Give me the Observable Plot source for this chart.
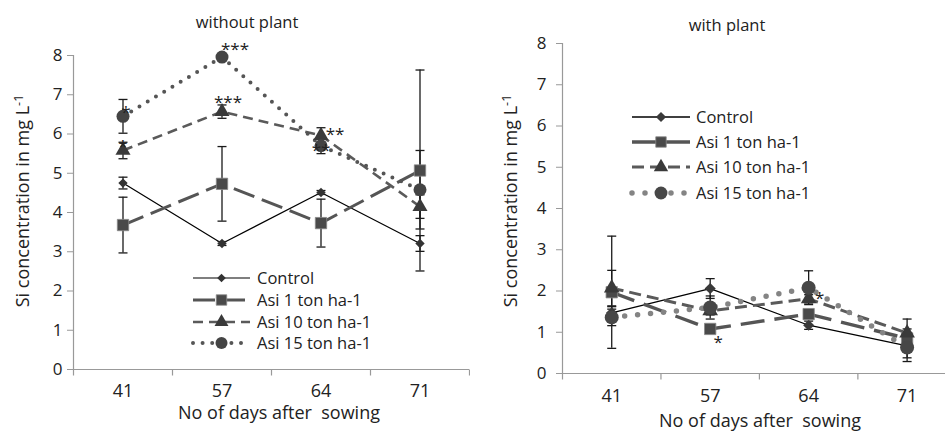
<!DOCTYPE html>
<html><head><meta charset="utf-8">
<script src="https://cdn.jsdelivr.net/npm/d3@7"></script>
<script src="https://cdn.jsdelivr.net/npm/@observablehq/plot@0.6"></script>
<style>
body{margin:0;background:#fff}
#wrap{display:flex;width:945px;height:431px;overflow:hidden;background:#fff}
.panel text{font-family:"Open Sans",sans-serif;fill:#222}
.panel [aria-label^="y-axis"] text{font-size:17px}
.panel [aria-label^="x-axis"] text{font-size:18px}
.panel [aria-label^="y-axis"] line,.panel [aria-label^="y-axis"] path,
.panel [aria-label^="x-axis"] line,.panel [aria-label^="x-axis"] path{stroke:#999}
.panel [aria-label^="y-axis"] .domain,.panel [aria-label^="x-axis"] .domain{display:none}
</style>
</head><body><div id="wrap"></div>
<script>
// ---- categories ----
const days = ["41", "57", "64", "71"];
const seriesNames = ["Control", "Asi 1 ton ha-1", "Asi 10 ton ha-1", "Asi 15 ton ha-1"];
const yTicks = [0, 1, 2, 3, 4, 5, 6, 7, 8];

// ---- panel "without plant": means and error half-widths (mg L-1) ----
const noPlantControl    = [4.75, 3.21, 4.51, 3.21];
const noPlantControlErr = [0.15, 0.05, 0.05, 0.20];
const noPlantAsi1       = [3.68, 4.73, 3.73, 5.07];
const noPlantAsi1Err    = [0.71, 0.95, 0.61, 2.56];
const noPlantAsi10      = [5.58, 6.57, 5.96, 4.15];
const noPlantAsi10Err   = [0.21, 0.17, 0.20, 0.30];
const noPlantAsi15      = [6.45, 7.96, 5.70, 4.58];
const noPlantAsi15Err   = [0.43, 0.05, 0.20, 1.00];

// ---- panel "with plant" ----
const plantControl    = [1.47, 2.06, 1.17, 0.67];
const plantControlErr = [0.15, 0.24, 0.10, 0.10];
const plantAsi1       = [1.97, 1.08, 1.44, 0.85];
const plantAsi1Err    = [1.36, 0.10, 0.10, 0.47];
const plantAsi10      = [2.07, 1.52, 1.81, 0.98];
const plantAsi10Err   = [0.43, 0.10, 0.10, 0.10];
const plantAsi15      = [1.36, 1.60, 2.08, 0.63];
const plantAsi15Err   = [0.20, 0.28, 0.41, 0.34];

// ---- significance marks ----
const noPlantStarLabels = ["***", "***", "*", "*", "**", "**"];
const noPlantStarDays   = ["57", "57", "41", "41", "64", "64"];
const noPlantStarValues = [8.25, 6.90, 6.65, 5.78, 6.10, 5.68];
const noPlantStarShift  = [13, 6, 3, 0, 14, 0];
const plantStarLabels = ["*", "*"];
const plantStarDays   = ["57", "64"];
const plantStarValues = [0.84, 1.91];
const plantStarShift  = [8, 11];

// ---- styles ----
const stylesLeft = [
  {stroke:"#000", sw:1.2, dash:null, cap:"butt", symbol:"diamond2", r:4.2, fill:"#333", mstroke:"none"},
  {stroke:"#555", sw:3, dash:"22,8", cap:"butt", symbol:"square", r:6.4, fill:"#4a4a4a", mstroke:"#888"},
  {stroke:"#5a5a5a", sw:2.6, dash:"10,6", cap:"butt", symbol:"triangle", r:5.6, fill:"#3a3a3a", mstroke:"none"},
  {stroke:"#555", sw:4, dash:"0,9.6", cap:"round", symbol:"circle", r:6.5, fill:"#444", mstroke:"none"}
];
const stylesRight = [
  {stroke:"#000", sw:1.3, dash:null, cap:"butt", symbol:"diamond2", r:5, fill:"#3a3a3a", mstroke:"none"},
  {stroke:"#555", sw:3.4, dash:"24,10", cap:"butt", symbol:"square", r:6.4, fill:"#4a4a4a", mstroke:"#888"},
  {stroke:"#5a5a5a", sw:3, dash:"12,6", cap:"butt", symbol:"triangle", r:5.8, fill:"#3a3a3a", mstroke:"none"},
  {stroke:"#848484", sw:5.5, dash:"0,13", cap:"round", symbol:"circle", r:7, fill:"#474747", mstroke:"none"}
];

const tickSym = {draw(ctx){ ctx.moveTo(0,0); ctx.lineTo(0,6); }};
const capSym  = {draw(ctx){ ctx.moveTo(-4.5,0); ctx.lineTo(4.5,0); }};
const d3Sym = {diamond2:d3.symbolDiamond2, square:d3.symbolSquare, triangle:d3.symbolTriangle, circle:d3.symbolCircle};

function rows(values, errs, name) {
  return days.map((d, i) => ({day:d, x:i + 0.5, y:values[i], lo:values[i] - errs[i], hi:values[i] + errs[i], series:name}));
}

function panel(cfg) {
  const seriesRows = cfg.values.map((v, k) => rows(v, cfg.errs[k], seriesNames[k]));
  const all = seriesRows.flat();
  const marks = [
    Plot.ruleY([0], {stroke:"#999", strokeWidth:1.2}),
    Plot.ruleX([0], {stroke:"#999", strokeWidth:1.2}),
    Plot.dot([0, 1, 2, 3, 4], {x:d => d, y:() => 0, symbol:tickSym, stroke:"#999", fill:"none", strokeWidth:1.2})
  ];
  seriesRows.forEach((r, k) => {
    const s = cfg.styles[k];
    marks.push(Plot.line(r, {x:"x", y:"y", stroke:s.stroke, strokeWidth:s.sw, strokeDasharray:s.dash, strokeLinecap:s.cap, curve:"linear"}));
  });
  marks.push(Plot.ruleX(all, {x:"x", y1:"lo", y2:"hi", stroke:"#1a1a1a", strokeWidth:1.3}));
  marks.push(Plot.dot(all, {x:"x", y:"lo", symbol:capSym, stroke:"#1a1a1a", fill:"none", strokeWidth:1.3}));
  marks.push(Plot.dot(all, {x:"x", y:"hi", symbol:capSym, stroke:"#1a1a1a", fill:"none", strokeWidth:1.3}));
  seriesRows.forEach((r, k) => {
    const s = cfg.styles[k];
    marks.push(Plot.dot(r, {x:"x", y:"y", symbol:s.symbol, r:s.r, fill:s.fill, stroke:s.mstroke, strokeWidth:0.8}));
  });
  cfg.starLabels.forEach((lab, j) => {
    marks.push(Plot.text([lab], {x:() => days.indexOf(cfg.starDays[j]) + 0.5, y:() => cfg.starValues[j], text:d => d,
      dx:cfg.starShift[j], dy:4, fontSize:17, fill:"#222"}));
  });

  const svgEl = Plot.plot({
    width:cfg.width, height:431,
    marginLeft:cfg.ml, marginRight:cfg.mr, marginTop:cfg.mt, marginBottom:cfg.mb,
    style:{fontFamily:"Open Sans, sans-serif", fontSize:"16px", background:"white", color:"#222", overflow:"visible"},
    x:{domain:[0, cfg.xMax], ticks:days.map((d, i) => i + 0.5), tickFormat:v => days[Math.floor(v)], tickSize:0, tickPadding:cfg.xPad, label:null},
    y:{domain:[0, 8], ticks:yTicks, tickSize:6, tickPadding:cfg.yPad, tickFormat:d3.format("d"), label:null},
    marks
  });
  svgEl.classList.add("panel");
  const svg = d3.select(svgEl);

  // panel title
  svg.append("text").attr("x", cfg.titleX).attr("y", cfg.titleY).attr("text-anchor", "middle")
    .style("font-size", "16.5px").text(cfg.title);
  // x-axis title
  svg.append("text").attr("x", cfg.xTitleX).attr("y", cfg.xTitleY).attr("text-anchor", "middle")
    .style("font-size", "18px").style("white-space", "pre").text("No of days after  sowing");
  // y-axis title with superscript
  const yt = svg.append("text").attr("transform", `translate(${cfg.yTitleX},${cfg.yTitleY}) rotate(-90)`)
    .attr("text-anchor", "middle").style("font-size", "18px");
  yt.append("tspan").text("Si concentration in mg L");
  yt.append("tspan").attr("dy", "-0.45em").style("font-size", "12.5px").text("-1");

  // legend
  const lg = svg.append("g").attr("text-anchor", "start");
  seriesNames.forEach((name, k) => {
    const s = cfg.styles[k];
    const y = cfg.legY[k];
    lg.append("line").attr("x1", cfg.legX0).attr("x2", cfg.legX1).attr("y1", y).attr("y2", y)
      .attr("stroke", s.stroke).attr("stroke-width", s.sw).attr("stroke-dasharray", s.dash)
      .attr("stroke-linecap", s.cap);
    const xm = (cfg.legX0 + cfg.legX1) / 2;
    lg.append("path").attr("transform", `translate(${xm},${y})`)
      .attr("d", d3.symbol(d3Sym[s.symbol], s.r * s.r * Math.PI * 0.85)())
      .attr("fill", s.fill).attr("stroke", s.mstroke).attr("stroke-width", 0.8);
    lg.append("text").attr("x", cfg.legTX).attr("y", y).attr("dy", "0.35em")
      .attr("text-anchor", "start").style("font-size", "16.5px").text(name);
  });
  return svgEl;
}

const wrap = document.getElementById("wrap");
wrap.appendChild(panel({
  width:470, ml:73, mr:1, mt:55, mb:62, xMax:4, xPad:15, yPad:5,
  values:[noPlantControl, noPlantAsi1, noPlantAsi10, noPlantAsi15],
  errs:[noPlantControlErr, noPlantAsi1Err, noPlantAsi10Err, noPlantAsi15Err],
  styles:stylesLeft,
  starLabels:noPlantStarLabels, starDays:noPlantStarDays, starValues:noPlantStarValues, starShift:noPlantStarShift,
  title:"without plant", titleX:247, titleY:28,
  xTitleX:279, xTitleY:419, yTitleX:29, yTitleY:201,
  legX0:193, legX1:250, legTX:257, legY:[278, 300, 322, 343]
}));
wrap.appendChild(panel({
  width:475, ml:92, mr:0, mt:43, mb:58, xMax:3.89, xPad:16, yPad:10,
  values:[plantControl, plantAsi1, plantAsi10, plantAsi15],
  errs:[plantControlErr, plantAsi1Err, plantAsi10Err, plantAsi15Err],
  styles:stylesRight,
  starLabels:plantStarLabels, starDays:plantStarDays, starValues:plantStarValues, starShift:plantStarShift,
  title:"with plant", titleX:257, titleY:31,
  xTitleX:290, xTitleY:427, yTitleX:47, yTitleY:201,
  legX0:162, legX1:220, legTX:226, legY:[117, 142, 167, 193]
}));
</script></body></html>
